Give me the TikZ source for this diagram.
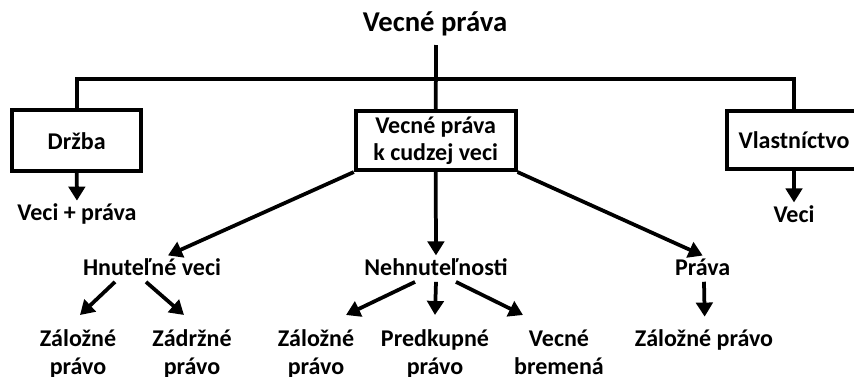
\documentclass[tikz,border=0pt]{standalone}
\usepackage{fontspec}
\setmainfont{Carlito}
\usetikzlibrary{arrows.meta}
\begin{document}
\begin{tikzpicture}[
	line width=3.2pt,
	every node/.style={font=\fontsize{20.5}{23}\selectfont\bfseries},
	box/.style={shape=rectangle, draw=black, align=center, line width=3.2pt},
	leaf/.style={shape=rectangle, align=center, inner sep=1pt},
	arr/.style={-{Triangle[length=12pt, width=14pt]}},
]
\useasboundingbox (0,0) rectangle (25.62,-11.31);
% top
\node[font=\fontsize{24.5}{28}\selectfont\bfseries] (title) at (13.05,-0.72) {Vecné práva};
\coordinate (top) at (13.08,-1.35);
\coordinate (bar) at (13.08,-2.37);
% boxes
\node[box, minimum width=3.87cm, minimum height=1.83cm] (drzba) at (2.30,-4.22) {Držba};
\node[box, minimum width=4.8cm, minimum height=1.77cm] (mid) at (13.07,-4.22) {Vecné práva\\k cudzej veci};
\node[box, minimum width=4.02cm, minimum height=1.74cm] (vl) at (23.82,-4.19) {Vlastníctvo};
\draw (top) -- (mid);
\draw (drzba.north) |- (bar) -| (vl.north);
% second row
\node[leaf] (vecipr) at (2.31,-6.42) {Veci + práva};
\node[leaf] (veci) at (23.82,-6.42) {Veci};
\node[leaf] (hnut) at (4.56,-8.01) {Hnuteľné veci};
\node[leaf] (neh) at (13.08,-8.01) {Nehnuteľnosti};
\node[leaf] (prava) at (21.08,-8.01) {Práva};
\draw[arr] (drzba) -- (vecipr);
\draw[arr] (vl) -- (veci);
\draw[arr] (mid.south west) -- ([xshift=0.48cm]hnut.north);
\draw[arr] (mid) -- (neh);
\draw[arr] (mid.south east) -- (prava.north);
% bottom row
\node[leaf, anchor=north] (zal1) at (2.34,-9.80) {Záložné\\[1pt]právo};
\node[leaf, anchor=north] (zadr) at (5.76,-9.80) {Zádržné\\[1pt]právo};
\node[leaf, anchor=north] (zal2) at (9.48,-9.80) {Záložné\\[1pt]právo};
\node[leaf, anchor=north] (pred) at (13.05,-9.80) {Predkupné\\[1pt]právo};
\node[leaf, anchor=north] (vb) at (16.77,-9.80) {Vecné\\[1pt]bremená};
\node[leaf] (zal3) at (21.12,-10.2) {Záložné právo};
\draw[arr] ([xshift=-1.11cm,yshift=-0.1cm]hnut.south) -- ([xshift=0.06cm,yshift=0.35cm]zal1.north);
\draw[arr] ([xshift=-0.18cm,yshift=-0.1cm]hnut.south) -- ([xshift=-0.24cm,yshift=0.35cm]zadr.north);
\draw[arr] ([xshift=-0.63cm,yshift=-0.1cm]neh.south) -- ([xshift=0.9cm,yshift=0.35cm]zal2.north);
\draw[arr] ([yshift=-0.1cm]neh.south) -- ([yshift=0.35cm]pred.north);
\draw[arr] ([xshift=0.6cm,yshift=-0.1cm]neh.south) -- ([xshift=-1.08cm,yshift=0.35cm]vb.north);
\draw[arr] ([xshift=0.04cm,yshift=-0.1cm]prava.south) -- ([xshift=0.02cm,yshift=0.3cm]zal3.north);
\end{tikzpicture}
\end{document}
